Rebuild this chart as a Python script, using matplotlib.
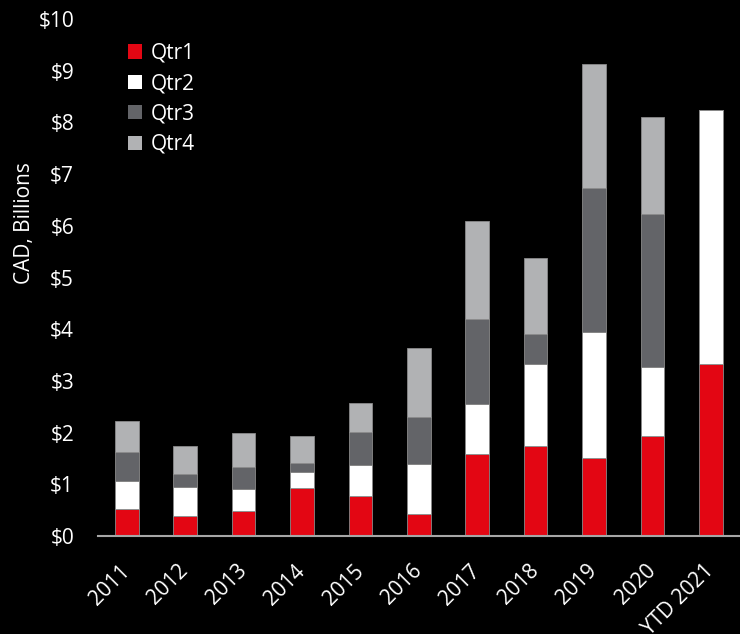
import matplotlib
matplotlib.use("Agg")
import matplotlib.pyplot as plt
import numpy as np

categories = ["2011", "2012", "2013", "2014", "2015", "2016", "2017", "2018", "2019", "2020", "YTD 2021"]
qtr1 = [0.53, 0.38, 0.48, 0.93, 0.77, 0.42, 1.59, 1.74, 1.50, 1.93, 3.33]
qtr2 = [0.53, 0.57, 0.43, 0.31, 0.60, 0.98, 0.96, 1.59, 2.44, 1.34, 4.91]
qtr3 = [0.56, 0.24, 0.42, 0.18, 0.64, 0.91, 1.65, 0.57, 2.80, 2.96, 0.00]
qtr4 = [0.61, 0.56, 0.66, 0.51, 0.56, 1.32, 1.89, 1.48, 2.39, 1.88, 0.00]
series_names = ["Qtr1", "Qtr2", "Qtr3", "Qtr4"]
yticks = [0, 1, 2, 3, 4, 5, 6, 7, 8, 9, 10]
ytick_labels = ["$0", "$1", "$2", "$3", "$4", "$5", "$6", "$7", "$8", "$9", "$10"]

colors = ["#E30613", "#FFFFFF", "#636468", "#B1B2B4"]

plt.rcParams['font.family'] = ['Open Sans', 'DejaVu Sans']
FS = 15

fig = plt.figure(figsize=(7.4, 6.34), dpi=100, facecolor="black")
ax = fig.add_axes([0.132, 0.1546, 0.868, 0.8154])
ax.set_facecolor("black")

x = np.arange(len(categories))
bottom = np.zeros(len(categories))
handles = []
for name, vals, c in zip(series_names, [qtr1, qtr2, qtr3, qtr4], colors):
    vals = np.array(vals)
    b = ax.bar(x, vals, bottom=bottom, width=0.405, color=c, edgecolor="#8a8a8a",
               linewidth=0.6, label=name, zorder=2)
    handles.append(b)
    bottom += vals

ax.set_xlim(-0.5, len(categories) - 0.5)
ax.set_ylim(0, 10)
ax.set_yticks(yticks)
ax.set_yticklabels(ytick_labels)
ax.set_xticks(x)
ax.set_xticklabels(categories, rotation=45, ha="right", va="center", rotation_mode="anchor")

ax.tick_params(axis="y", length=0, pad=17, labelsize=FS, labelcolor="white")
ax.tick_params(axis="x", length=0, pad=23, labelsize=FS, labelcolor="white")

for s in ["top", "right", "left"]:
    ax.spines[s].set_visible(False)
ax.spines["bottom"].set_color("#A6A6A6")
ax.spines["bottom"].set_linewidth(1.5)
ax.spines["bottom"].set_zorder(3)

ax.set_ylabel("CAD, Billions", color="white", fontsize=FS)
ax.yaxis.set_label_coords(-0.097, 0.605)

leg = ax.legend(handles=handles, loc="upper left", bbox_to_anchor=(0.034, 0.970),
                frameon=False, fontsize=FS, labelcolor="white",
                handlelength=0.68, handleheight=0.68, handletextpad=0.4,
                labelspacing=0.45, borderaxespad=0)
for h in leg.legend_handles:
    h.set_edgecolor("none")

fig.savefig("out.png", dpi=100, facecolor="black")
